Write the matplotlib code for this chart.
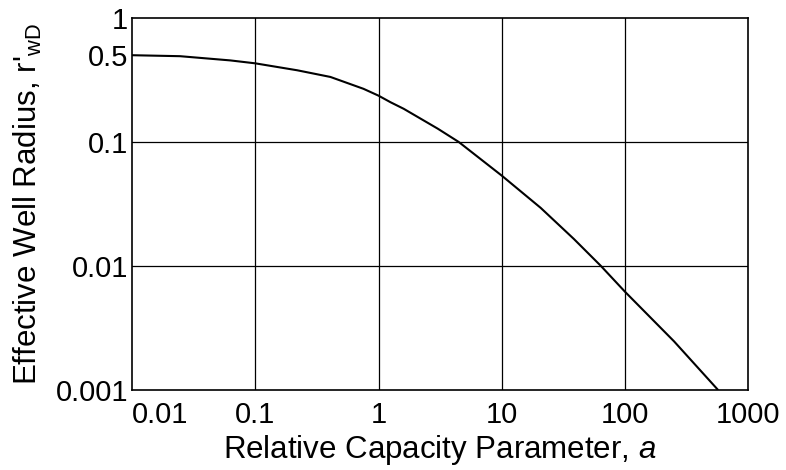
import matplotlib
matplotlib.use("Agg")
import matplotlib.pyplot as plt

# effective well radius vs relative capacity parameter
alpha = [0.01, 0.0245, 0.0627, 0.1, 0.219, 0.407, 0.755, 1.0, 1.25, 1.60,
         3.02, 4.47, 10, 20.7, 38.5, 63.8, 100, 250, 570]
r_wd = [0.5, 0.491, 0.454, 0.430, 0.378, 0.334, 0.268, 0.236, 0.209, 0.185,
        0.128, 0.1, 0.0535, 0.0294, 0.0165, 0.01, 0.0062, 0.00247, 0.001]

x_ticks = [0.01, 0.1, 1, 10, 100, 1000]
x_labels = ["0.01", "0.1", "1", "10", "100", "1000"]
y_ticks = [0.001, 0.01, 0.1, 0.5, 1]
y_labels = ["0.001", "0.01", "0.1", "0.5", "1"]
y_grid = [0.01, 0.1]

plt.rcParams['font.family'] = ['Liberation Sans', 'DejaVu Sans']
plt.rcParams['mathtext.fontset'] = 'custom'
plt.rcParams['mathtext.rm'] = 'Liberation Sans'
plt.rcParams['mathtext.it'] = 'Liberation Sans:italic'

fig = plt.figure(figsize=(7.86, 4.70), dpi=100)
ax = fig.add_axes([0.168, 0.170, 0.784, 0.792])

ax.plot(alpha, r_wd, color='black', linewidth=1.5, solid_capstyle='butt')

ax.set_xscale('log')
ax.set_yscale('log')
ax.set_xlim(0.01, 1000)
ax.set_ylim(0.001, 1)

ax.set_xticks(x_ticks)
ax.set_xticklabels(x_labels)
ax.set_yticks(y_ticks)
ax.set_yticklabels(y_labels)
ax.minorticks_off()
ax.tick_params(axis='both', length=0, labelsize=21, colors='black')
ax.tick_params(axis='x', pad=8)
ax.tick_params(axis='y', pad=3)
ax.get_xticklabels()[0].set_horizontalalignment('left')

for xv in x_ticks[1:-1]:
    ax.axvline(xv, color='black', linewidth=0.9)
for yv in y_grid:
    ax.axhline(yv, color='black', linewidth=0.9)

for s in ax.spines.values():
    s.set_linewidth(1.2)
    s.set_color('black')

ax.set_xlabel(r"Relative Capacity Parameter, $\mathit{a}$", fontsize=22.5, labelpad=3)
ax.set_ylabel(r"Effective Well Radius, r$'_{\mathrm{wD}}$", fontsize=22.5, labelpad=8)

fig.savefig("out.png", dpi=100)
